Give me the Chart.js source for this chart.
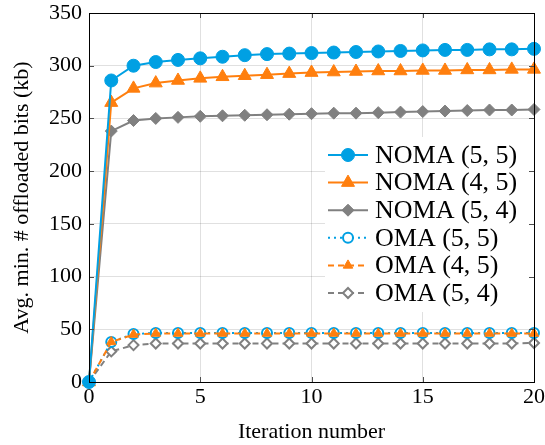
<!DOCTYPE html>
<html>
<head>
<meta charset="utf-8">
<script src="https://cdn.jsdelivr.net/npm/chart.js@4.4.1/dist/chart.umd.min.js"></script>
<style>
  body { margin: 0; background: #fff; }
  #wrap { width: 545px; height: 445px; }
</style>
</head>
<body>
<div id="wrap"><canvas id="chart" width="545" height="445"></canvas></div>
<script>
// data
const iterations = [0,1,2,3,4,5,6,7,8,9,10,11,12,13,14,15,16,17,18,19,20];
const yTicks = [0,50,100,150,200,250,300,350];
const xTicks = [0,5,10,15,20];

const noma55 = [0,286,300,303.5,305.5,307,308.5,310,311,311.5,312,312.5,313,313.5,314,314.5,315,315,315.5,315.5,316];
const noma45 = [0,265,278.5,283.5,286,288,289.5,290.5,291.5,292.5,293.5,294,294.5,295,295,295.5,295.5,296,296,296.5,296.5];
const noma54 = [0,238,248,250,251,252,252.5,253,253.5,254,254.5,255,255,255.5,256,256.5,257,257.5,258,258,258.5];
const oma55 = [0,38,45.5,46.5,46.5,46.5,46.5,46.5,46.5,46.5,46.5,46.5,46.5,46.5,46.5,46.5,46.5,46.5,46.5,46.5,46.5];
const oma45 = [0,38,45,46,46,46,46,46,46,46,46,46,46,46,46,46,46,46,46,46,46];
const oma54 = [0,29,35,36.5,36.5,36.5,36.5,36.5,36.5,36.5,36.5,36.5,36.5,36.5,36.5,36.5,36.5,36.5,36.5,36.5,37];

const labels = ['NOMA (5, 5)','NOMA (4, 5)','NOMA (5, 4)','OMA (5, 5)','OMA (4, 5)','OMA (5, 4)'];

const BLUE = '#00a0e3';
const ORANGE = '#ff7f0e';
const GREY = '#808080';
const FONT = "'Liberation Serif', 'DejaVu Serif', serif";

function toPts(arr) {
    return arr.map((v, i) => ({ x: iterations[i], y: v }));
}

// chart frame + small inner tick marks
const framePlugin = {
    id: 'frame',
    afterDraw(chart) {
        const ctx = chart.ctx;
        const a = chart.chartArea;
        const xs = chart.scales.x, ys = chart.scales.y;
        ctx.save();
        ctx.strokeStyle = '#4d4d4d';
        ctx.lineWidth = 1;
        yTicks.forEach(t => {
            const y = Math.round(ys.getPixelForValue(t)) + 0.5;
            ctx.beginPath();
            ctx.moveTo(a.left, y); ctx.lineTo(a.left + 5, y);
            ctx.moveTo(a.right, y); ctx.lineTo(a.right - 5, y);
            ctx.stroke();
        });
        xTicks.forEach(t => {
            const x = Math.round(xs.getPixelForValue(t)) + 0.5;
            ctx.beginPath();
            ctx.moveTo(x, a.bottom); ctx.lineTo(x, a.bottom - 5);
            ctx.moveTo(x, a.top); ctx.lineTo(x, a.top + 5);
            ctx.stroke();
        });
        ctx.strokeStyle = '#000';
        ctx.strokeRect(Math.round(a.left) + 0.5, Math.round(a.top) + 0.5,
            Math.round(a.right - a.left), Math.round(a.bottom - a.top));
        ctx.restore();
    }
};

// legend inside the plot, upper right, white box without border
const legendPlugin = {
    id: 'insideLegend',
    afterDatasetsDraw(chart) {
        const ctx = chart.ctx;
        const a = chart.chartArea;
        const boxW = 209, boxH = 175;
        const bx = a.right - boxW, by = 137;
        ctx.save();
        ctx.fillStyle = '#fff';
        ctx.fillRect(bx, by, boxW, boxH);
        ctx.font = '26px ' + FONT;
        ctx.textBaseline = 'middle';
        chart.data.datasets.forEach((d, i) => {
            const y = 155 + i * 27.6;
            const x0 = bx + 3, x1 = bx + 43, xm = (x0 + x1) / 2;
            ctx.strokeStyle = d.borderColor;
            ctx.lineWidth = d.borderWidth;
            ctx.setLineDash(d.borderDash);
            ctx.beginPath();
            ctx.moveTo(x0, y); ctx.lineTo(x1, y);
            ctx.stroke();
            ctx.setLineDash([]);
            ctx.fillStyle = d.pointBackgroundColor;
            ctx.strokeStyle = d.pointBorderColor;
            ctx.lineWidth = d.pointBorderWidth;
            Chart.helpers.drawPoint(ctx, { pointStyle: d.pointStyle, radius: d.pointRadius, borderWidth: d.pointBorderWidth, rotation: 0 }, xm, y);
            ctx.fillStyle = '#000';
            ctx.fillText(d.label, bx + 50, y + 1);
        });
        ctx.restore();
    }
};

function ds(label, data, color, style, radius, dash, filled, order) {
    return {
        label: label,
        data: toPts(data),
        borderColor: color,
        backgroundColor: color,
        borderWidth: 2,
        borderDash: dash,
        pointStyle: style,
        pointRadius: radius,
        pointHoverRadius: radius,
        pointBorderWidth: filled ? 1 : 2,
        pointBorderColor: color,
        pointBackgroundColor: filled ? color : '#fff',
        tension: 0,
        clip: 12,
        order: order
    };
}

const datasets = [
    ds(labels[0], noma55, BLUE, 'circle', 6.5, [], true, 0),
    ds(labels[1], noma45, ORANGE, 'triangle', 7.5, [], true, 1),
    ds(labels[2], noma54, GREY, 'rectRot', 6, [], true, 2),
    ds(labels[3], oma55, BLUE, 'circle', 5, [2, 4], false, 4),
    ds(labels[4], oma45, ORANGE, 'triangle', 5.5, [6, 4], true, 3),
    ds(labels[5], oma54, GREY, 'rectRot', 5, [6, 4], false, 5)
];

new Chart(document.getElementById('chart'), {
    type: 'line',
    data: { datasets: datasets },
    options: {
        responsive: false,
        animation: false,
        layout: { padding: { left: 0, right: 11, top: 13, bottom: 0 } },
        plugins: { legend: { display: false }, tooltip: { enabled: false } },
        scales: {
            x: {
                type: 'linear',
                min: 0, max: 20,
                afterBuildTicks: (s) => { s.ticks = xTicks.map(v => ({ value: v })); },
                afterFit: (s) => { s.height = 63; s.paddingLeft = 0; s.paddingRight = 0; },
                grid: { color: 'rgba(0,0,0,0.12)', drawTicks: false },
                border: { display: false },
                ticks: { font: { family: FONT, size: 22 }, color: '#000', padding: 2, maxRotation: 0 },
                title: { display: true, text: 'Iteration number', font: { family: FONT, size: 22 }, color: '#000', padding: { top: 0, bottom: 0 } }
            },
            y: {
                min: 0, max: 350,
                afterBuildTicks: (s) => { s.ticks = yTicks.map(v => ({ value: v })); },
                afterFit: (s) => { s.width = 89; s.paddingTop = 0; s.paddingBottom = 0; },
                grid: { color: 'rgba(0,0,0,0.12)', drawTicks: false },
                border: { display: false },
                ticks: { font: { family: FONT, size: 22 }, color: '#000', padding: 7 },
                title: { display: true, text: 'Avg. min. # offloaded bits (kb)', font: { family: FONT, size: 22 }, color: '#000', padding: { top: 9, bottom: 0 } }
            }
        }
    },
    plugins: [legendPlugin, framePlugin]
});
</script>
</body>
</html>
